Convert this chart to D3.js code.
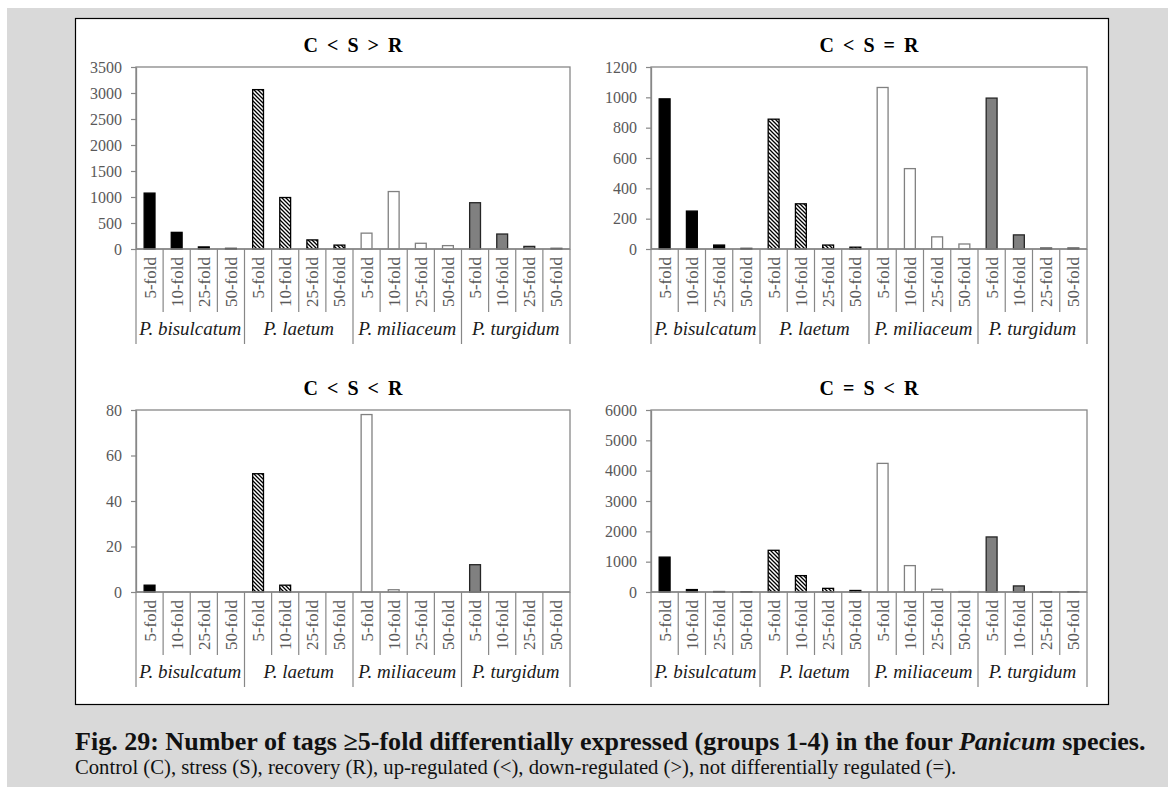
<!DOCTYPE html>
<html>
<head>
<meta charset="utf-8">
<script src="https://cdn.jsdelivr.net/npm/d3@7"></script>
<style>
body { margin: 0; background: #fff; }
svg text { font-family: "Liberation Serif", "DejaVu Serif", serif; }
</style>
</head>
<body>
<div id="the_chart"></div>
<script>
var folds = ["5-fold", "10-fold", "25-fold", "50-fold"];
var species = ["P. bisulcatum", "P. laetum", "P. miliaceum", "P. turgidum"];
var titles = ["C < S > R", "C < S = R", "C < S < R", "C = S < R"];
var yMax = [3500, 1200, 80, 6000];
var yStep = [500, 200, 20, 1000];

// one row per species, one column per fold
var downInR = [[1075, 320, 40, 12], [3065, 990, 175, 75], [305, 1105, 110, 65], [890, 288, 50, 12]];
var sameInR = [[990, 250, 26, 4], [856, 298, 26, 12], [1065, 530, 80, 33], [995, 93, 6, 6]];
var upInR = [[3, 0, 0, 0], [52, 3, 0, 0], [78, 1, 0, 0], [12, 0, 0, 0]];
var upOnlyR = [[1150, 80, 15, 10], [1375, 540, 120, 50], [4240, 870, 90, 15], [1815, 200, 12, 12]];
var panelValues = [downInR, sameInR, upInR, upOnlyR];

var w = 1168;
var h = 787;

var fills = ["#000", "url(#hatch)", "#fff", "#808080"];
var strokes = ["#000", "#000", "#808080", "#262626"];

// plot areas of the four panels
var boxes = [
    {left: 136, right: 570, top: 67, base: 249},
    {left: 651, right: 1087, top: 67, base: 249},
    {left: 136, right: 570, top: 410, base: 592},
    {left: 651, right: 1087, top: 410, base: 592}
];

var svg = d3.select("#the_chart")
    .append("svg")
    .attr("width", w)
    .attr("height", h);

var defs = svg.append("defs");
var pat = defs.append("pattern")
    .attr("id", "hatch")
    .attr("patternUnits", "userSpaceOnUse")
    .attr("width", 4)
    .attr("height", 4);
pat.append("rect").attr("width", 4).attr("height", 4).attr("fill", "#fff");
pat.append("path")
    .attr("d", "M-1,-1L5,5M3,-1L5,1M-1,3L1,5")
    .attr("stroke", "#000")
    .attr("stroke-width", 1.3);

// grey page and white figure frame
svg.append("rect").attr("x", 7).attr("y", 8).attr("width", w - 7).attr("height", h - 8).attr("fill", "#d9d9d9");
svg.append("rect")
    .attr("x", 75.5).attr("y", 18.5)
    .attr("width", 1033).attr("height", 686)
    .attr("fill", "#fff")
    .attr("stroke", "#000")
    .attr("stroke-width", 1.2);

panelValues.forEach(function (vals, p) {
    var b = boxes[p];
    var g = svg.append("g");

    var rows = [];
    vals.forEach(function (row, s) {
        row.forEach(function (v, f) {
            rows.push({sp: s, fold: f, value: v, key: s * 4 + f});
        });
    });

    var x = d3.scaleBand()
        .domain(d3.range(16))
        .range([b.left, b.right]);

    var y = d3.scaleLinear()
        .domain([0, yMax[p]])
        .range([b.base, b.top]);

    // plot border
    g.append("rect")
        .attr("x", b.left).attr("y", y(yMax[p]))
        .attr("width", b.right - b.left).attr("height", y(0) - y(yMax[p]))
        .attr("fill", "none")
        .attr("stroke", "#878787")
        .attr("stroke-width", 1.3);

    // y axis
    var ax = g.append("g")
        .attr("transform", "translate(" + b.left + ",0)")
        .call(d3.axisLeft(y)
            .tickValues(d3.range(0, yMax[p] + 1, yStep[p]))
            .tickFormat(d3.format("d"))
            .tickSize(5)
            .tickSizeOuter(0)
            .tickPadding(9))
        .attr("font-family", "Liberation Serif")
        .attr("font-size", 16);
    ax.select(".domain").attr("stroke", "#878787").attr("stroke-width", 1.3);
    ax.selectAll(".tick line").attr("stroke", "#878787").attr("stroke-width", 1.2);
    ax.selectAll(".tick text").attr("fill", "#595959");

    // category separators (long ones between species)
    g.selectAll(".sep")
        .data(d3.range(17))
        .enter()
        .append("line")
        .attr("x1", function (i) { return b.left + i * x.step(); })
        .attr("x2", function (i) { return b.left + i * x.step(); })
        .attr("y1", y(0))
        .attr("y2", function (i) { return i % 4 == 0 ? y(0) + 95 : y(0) + 63; })
        .attr("stroke", "#878787")
        .attr("stroke-width", 1.2);

    // bars
    g.selectAll(".bar")
        .data(rows.filter(function (d) { return d.value > 0; }))
        .enter()
        .append("rect")
        .attr("x", function (d) { return x(d.key) + x.bandwidth() * 0.3; })
        .attr("width", x.bandwidth() * 0.4)
        .attr("y", function (d) { return y(d.value); })
        .attr("height", function (d) { return y(0) - y(d.value); })
        .attr("fill", function (d) { return fills[d.sp]; })
        .attr("stroke", function (d) { return strokes[d.sp]; })
        .attr("stroke-width", 1.3);

    // baseline over the bars
    g.append("line")
        .attr("x1", b.left).attr("x2", b.right)
        .attr("y1", y(0)).attr("y2", y(0))
        .attr("stroke", "#878787")
        .attr("stroke-width", 1.3);

    // fold labels, rotated
    g.selectAll(".fold")
        .data(rows)
        .enter()
        .append("text")
        .attr("transform", function (d) {
            return "translate(" + (x(d.key) + x.bandwidth() / 2) + "," + (y(0) + 8) + ") rotate(-90)";
        })
        .attr("dy", "0.35em")
        .attr("text-anchor", "end")
        .attr("fill", "#595959")
        .style("font-size", "17px")
        .text(function (d) { return folds[d.fold]; });

    // species labels
    g.selectAll(".species")
        .data(species)
        .enter()
        .append("text")
        .attr("x", function (d, i) { return x(i * 4) + x.step() * 2; })
        .attr("y", y(0) + 86)
        .attr("text-anchor", "middle")
        .attr("fill", "#1a1a1a")
        .style("font-size", "19px")
        .style("font-style", "italic")
        .text(function (d) { return d; });

    // title
    g.append("text")
        .attr("x", (b.left + b.right) / 2)
        .attr("y", b.top - 15)
        .attr("text-anchor", "middle")
        .attr("fill", "#000")
        .style("font-size", "20px")
        .style("font-weight", "bold")
        .style("word-spacing", "4px")
        .text(titles[p]);
});

// caption
var cap1 = svg.append("text")
    .attr("x", 75).attr("y", 750)
    .attr("fill", "#111")
    .style("font-size", "19px")
    .style("font-weight", "bold");
cap1.append("tspan").text("Fig. 29: Number of tags \u22655-fold differentially expressed (groups 1-4) in the four ");
cap1.append("tspan").style("font-style", "italic").text("Panicum");
cap1.append("tspan").text(" species.");

var cap2 = svg.append("text")
    .attr("x", 75).attr("y", 774)
    .attr("fill", "#111")
    .style("font-size", "17px")
    .text("Control (C), stress (S), recovery (R), up-regulated (<), down-regulated (>), not differentially regulated (=).");

// scale caption lines to the widths they take in the figure
[[cap1, 1071, 19], [cap2, 882, 17]].forEach(function (c) {
    var wNow = c[0].node().getBBox().width;
    c[0].style("font-size", (c[2] * c[1] / wNow) + "px");
});
</script>
</body>
</html>
